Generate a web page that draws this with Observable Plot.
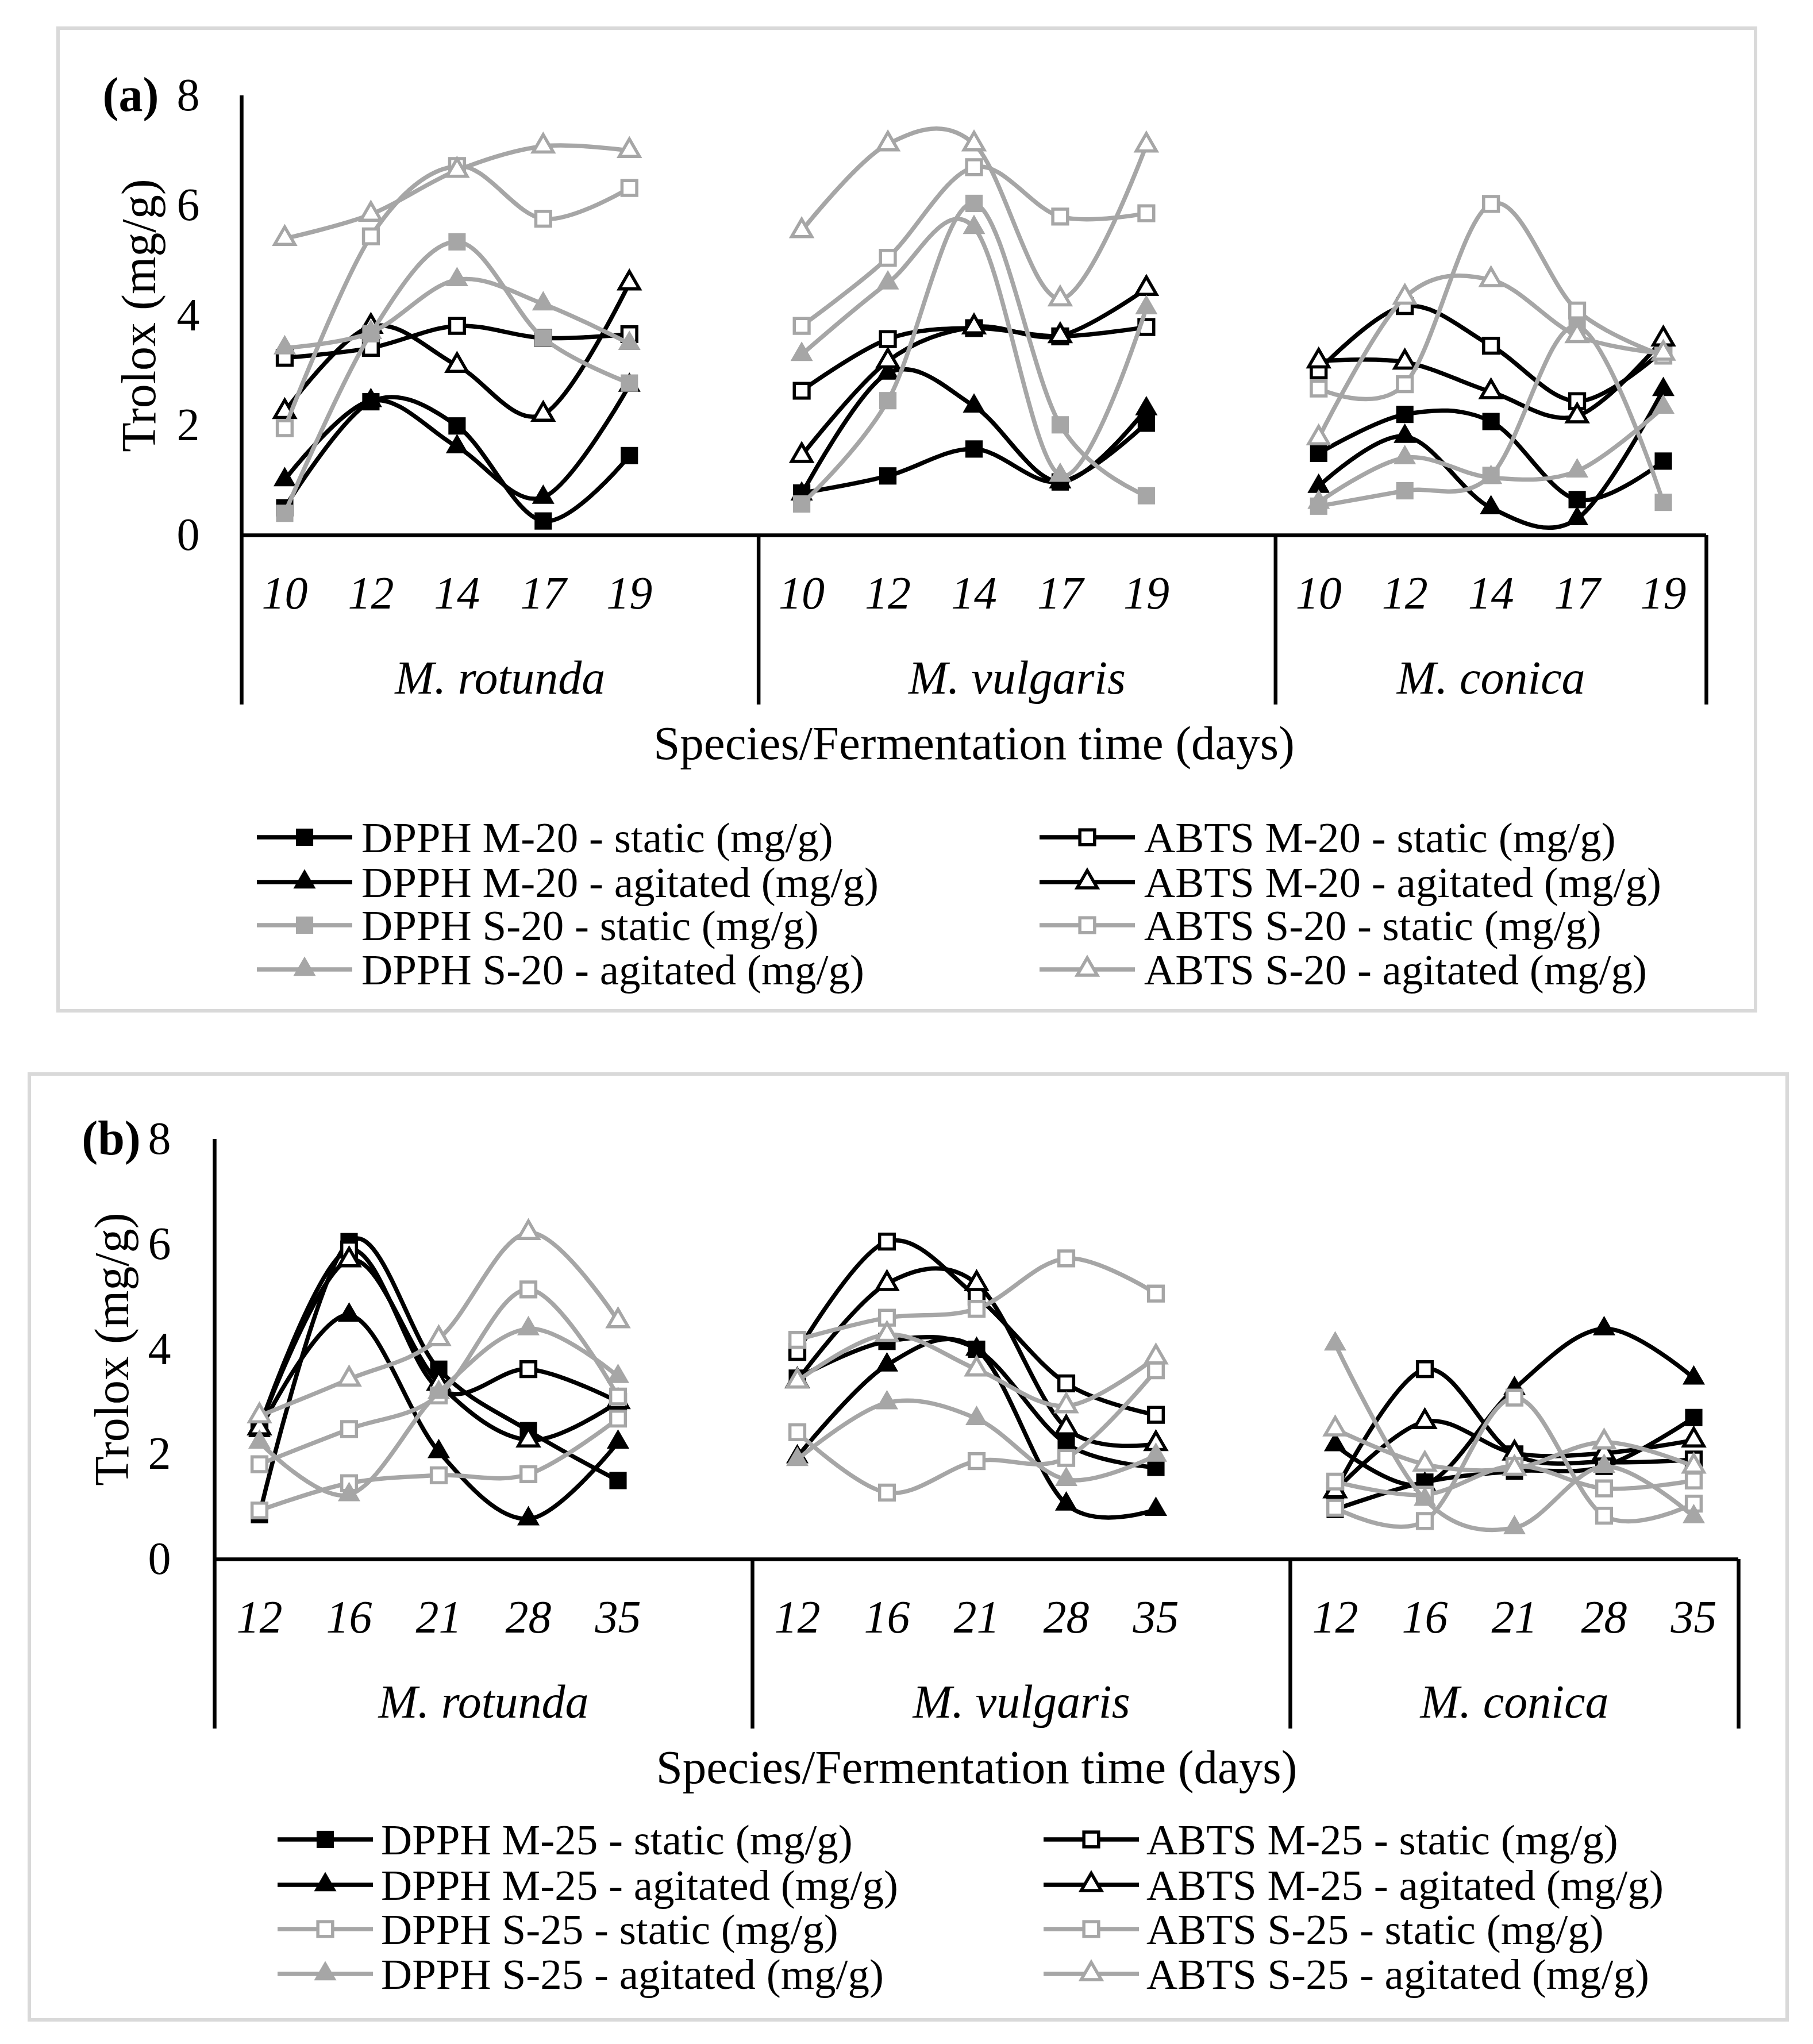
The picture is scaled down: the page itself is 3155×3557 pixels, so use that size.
<!DOCTYPE html>
<html><head><meta charset="utf-8">
<script src="https://cdn.jsdelivr.net/npm/d3@7"></script>
<script src="https://cdn.jsdelivr.net/npm/@observablehq/plot@0.6"></script>
<style>
body{margin:0;background:#fff;width:3155px;height:3557px;position:relative;overflow:hidden;font-family:"Liberation Serif","Times New Roman",serif;color:#000;}
.frame{position:absolute;border:6px solid #d9d9d9;box-sizing:border-box;}
.plot{position:absolute;left:0;}
.leg{position:absolute;font-size:75px;line-height:1;white-space:nowrap;}
.leg svg{position:absolute;left:0;top:0;}
.leg span{position:absolute;top:50%;transform:translateY(-50%);}
</style></head><body>
<div class="frame" style="left:98px;top:46px;width:2960px;height:1716px"></div>
<div class="frame" style="left:48px;top:1866px;width:3065px;height:1652px"></div>
<div id="a" class="plot" style="top:0px"></div>
<div id="b" class="plot" style="top:1880px"></div>
<div id="legA"></div><div id="legB"></div>
<script>
// ---------- data ----------
const species = ["M. rotunda", "M. vulgaris", "M. conica"];
const daysA = ["10", "12", "14", "17", "19"];
const daysB = ["12", "16", "21", "28", "35"];
const yTicks = [0, 2, 4, 6, 8];

const namesA = ["DPPH M-20 - static (mg/g)", "ABTS M-20 - static (mg/g)",
  "DPPH M-20 - agitated (mg/g)", "ABTS M-20 - agitated (mg/g)",
  "DPPH S-20 - static (mg/g)", "ABTS S-20 - static (mg/g)",
  "DPPH S-20 - agitated (mg/g)", "ABTS S-20 - agitated (mg/g)"];
const namesB = ["DPPH M-25 - static (mg/g)", "ABTS M-25 - static (mg/g)",
  "DPPH M-25 - agitated (mg/g)", "ABTS M-25 - agitated (mg/g)",
  "DPPH S-25 - static (mg/g)", "ABTS S-25 - static (mg/g)",
  "DPPH S-25 - agitated (mg/g)", "ABTS S-25 - agitated (mg/g)"];

// panel (a): values per species (rotunda, vulgaris, conica) x days
const dpphM20static = [0.50, 2.43, 1.99, 0.26, 1.45, 0.77, 1.08, 1.57, 0.97, 2.04, 1.49, 2.20, 2.07, 0.65, 1.35];
const abtsM20static = [3.23, 3.41, 3.81, 3.59, 3.66, 2.63, 3.57, 3.77, 3.62, 3.79, 3.00, 4.17, 3.45, 2.44, 3.37];
const dpphM20agit   = [1.01, 2.45, 1.61, 0.69, 2.73, 0.75, 2.95, 2.35, 0.97, 2.30, 0.89, 1.80, 0.50, 0.30, 2.65];
const abtsM20agit   = [2.25, 3.80, 3.09, 2.20, 4.59, 1.45, 3.17, 3.79, 3.63, 4.49, 3.17, 3.15, 2.61, 2.17, 3.57];
const dpphS20static = [0.40, 3.67, 5.34, 3.59, 2.77, 0.57, 2.45, 6.04, 2.01, 0.72, 0.53, 0.81, 1.09, 3.81, 0.60];
const abtsS20static = [1.95, 5.44, 6.72, 5.76, 6.32, 3.81, 5.05, 6.70, 5.80, 5.86, 2.67, 2.75, 6.03, 4.09, 3.27];
const dpphS20agit   = [3.41, 3.69, 4.65, 4.21, 3.49, 3.29, 4.59, 5.60, 1.09, 4.14, 0.60, 1.41, 1.05, 1.17, 2.33];
const abtsS20agit   = [5.40, 5.84, 6.64, 7.08, 7.00, 5.54, 7.12, 7.12, 4.30, 7.10, 1.77, 4.33, 4.65, 3.63, 3.31];

// panel (b)
const dpphM25static = [0.85, 6.05, 3.62, 2.45, 1.50, 3.45, 4.15, 4.00, 2.20, 1.75, 0.95, 1.47, 1.68, 1.77, 2.70];
const abtsM25static = [2.50, 5.90, 3.25, 3.62, 3.00, 3.95, 6.05, 5.00, 3.35, 2.75, 1.30, 3.62, 2.00, 1.85, 1.90];
const dpphM25agit   = [2.45, 4.65, 2.05, 0.77, 2.23, 1.95, 3.70, 4.00, 1.05, 0.95, 2.18, 1.43, 3.25, 4.39, 3.45];
const abtsM25agit   = [2.50, 5.70, 3.35, 2.27, 3.00, 3.40, 5.25, 5.25, 2.50, 2.20, 1.30, 2.62, 2.02, 2.02, 2.27];
const dpphS25static = [0.93, 1.45, 1.60, 1.62, 2.68, 2.42, 1.27, 1.87, 1.93, 3.60, 0.98, 0.73, 3.08, 0.83, 1.06];
const abtsS25static = [1.81, 2.48, 3.12, 5.14, 3.10, 4.18, 4.60, 4.77, 5.73, 5.06, 1.48, 1.23, 1.78, 1.35, 1.50];
const dpphS25agit   = [2.23, 1.23, 3.18, 4.39, 3.48, 1.90, 2.98, 2.68, 1.52, 1.98, 4.10, 1.14, 0.60, 1.77, 0.81];
const abtsS25agit   = [2.73, 3.43, 4.20, 6.22, 4.54, 3.39, 4.28, 3.62, 2.92, 3.85, 2.48, 1.81, 1.73, 2.23, 1.77];

const seriesA = [dpphM20static, abtsM20static, dpphM20agit, abtsM20agit, dpphS20static, abtsS20static, dpphS20agit, abtsS20agit];
const seriesB = [dpphM25static, abtsM25static, dpphM25agit, abtsM25agit, dpphS25static, abtsS25static, dpphS25agit, abtsS25agit];

// ---------- styles ----------
const BLACK = "#000", GRAY = "#a6a6a6";
function styleFor(i, panel) {
  const color = i < 4 ? BLACK : GRAY;
  const symbol = (i % 4 < 2) ? "square" : "triangle";
  let filled = (i % 2 === 0);
  if (panel === "b" && i === 4) filled = false;
  return {color, symbol, filled};
}
function markerR(sym, filled) {
  if (sym === "square") return filled ? 17 : 14.5;
  return filled ? 14.5 : 13;
}

const FONT = "Liberation Serif, Times New Roman, serif";

function panel(el, o) {
  const rows = [];
  o.series.forEach((vals, si) => species.forEach((sp, gi) => o.days.forEach((d, di) => {
    rows.push({si, gi, key: si + "-" + gi, x: gi * 6 + di + 0.5, y: vals[gi * 5 + di]});
  })));
  const ticks = [];
  species.forEach((sp, gi) => o.days.forEach((d, di) => ticks.push({x: gi * 6 + di + 0.5, t: d})));
  const groups = species.map((sp, gi) => ({x: gi === 2 ? 14.5 : gi * 6 + 3, t: sp}));
  const pxPerUnit = (o.y0 - o.y8) / 8;
  const yBot = -o.sepDrop / pxPerUnit;

  const marks = [
    Plot.ruleY([0], {stroke: BLACK, strokeWidth: 6.5}),
    Plot.ruleX([0], {y1: 8, y2: yBot, stroke: BLACK, strokeWidth: 6.5}),
    Plot.ruleX([6, 12, 17], {y1: 0, y2: yBot, stroke: BLACK, strokeWidth: 6.5}),
    Plot.axisY({ticks: yTicks, tickSize: 0, tickPadding: o.tickPad, fontSize: 80, label: null}),
    Plot.text(ticks, {x: "x", text: "t", frameAnchor: "bottom", dy: 102, lineAnchor: "middle", fontStyle: "italic", fontSize: 80}),
    Plot.text(groups, {x: "x", text: "t", frameAnchor: "bottom", dy: 249, lineAnchor: "middle", fontStyle: "italic", fontSize: 82}),
    Plot.text(["Species/Fermentation time (days)"], {text: d => d, frameAnchor: "bottom", dy: 363, lineAnchor: "middle", fontSize: 83}),
    Plot.text(["Trolox (mg/g)"], {text: d => d, frameAnchor: "left", dx: -177, rotate: -90, textAnchor: "middle", lineAnchor: "middle", fontSize: 84}),
    Plot.text([o.tag], {text: d => d, frameAnchor: "top-left", dx: o.tagDx, lineAnchor: "middle", textAnchor: "middle", fontWeight: "bold", fontSize: 84})
  ];
  o.series.forEach((vals, si) => {
    const st = styleFor(si, o.id);
    const data = rows.filter(r => r.si === si);
    marks.push(Plot.line(data, {x: "x", y: "y", z: "key", stroke: st.color, strokeWidth: 7.5, curve: "cardinal"}));
    marks.push(Plot.dot(data, {x: "x", y: "y", symbol: st.symbol, r: markerR(st.symbol, st.filled),
      fill: st.filled ? st.color : "#fff", stroke: st.color, strokeWidth: st.filled ? 0 : 5.5}));
  });
  const chart = Plot.plot({
    width: 3155, height: o.height,
    marginTop: o.y8 - o.top, marginBottom: o.height - (o.y0 - o.top),
    marginLeft: o.left, marginRight: 3155 - o.right,
    x: {type: "linear", domain: [0, 17], axis: null},
    y: {domain: [0, 8], axis: null},
    style: {fontFamily: FONT, fontSize: "80px", color: "#000", background: "transparent", overflow: "visible"},
    marks
  });
  document.getElementById(el).appendChild(chart);
}

panel("a", {id: "a", series: seriesA, days: daysA, top: 0, height: 1360, y8: 166, y0: 931, left: 420, right: 2969, sepDrop: 295, tickPad: 73, tag: "(a)", tagDx: -193});
panel("b", {id: "b", series: seriesB, days: daysB, top: 1880, height: 1260, y8: 1982, y0: 2713, left: 373, right: 3025, sepDrop: 295, tickPad: 76, tag: "(b)", tagDx: -180});

// ---------- legends ----------
function legend(el, names, id, colX, textX, rowsY) {
  const host = document.getElementById(el);
  names.forEach((name, i) => {
    const st = styleFor(i, id);
    const row = Math.floor(i / 2), col = i % 2;
    const div = document.createElement("div");
    div.className = "leg";
    div.style.left = colX[col] + "px";
    div.style.top = (rowsY[row] - 40) + "px";
    div.style.height = "80px";
    div.style.width = "1300px";
    const w = 166, cy = 40, cx = 83;
    const r = markerR(st.symbol, st.filled);
    let marker;
    if (st.symbol === "square") {
      const s = Math.sqrt(Math.PI) * r;
      marker = `<rect x="${cx - s / 2}" y="${cy - s / 2}" width="${s}" height="${s}" fill="${st.filled ? st.color : "#fff"}" stroke="${st.color}" stroke-width="${st.filled ? 0 : 5.5}"/>`;
    } else {
      const p = d3.symbol(d3.symbolTriangle, Math.PI * r * r)();
      marker = `<path transform="translate(${cx},${cy})" d="${p}" fill="${st.filled ? st.color : "#fff"}" stroke="${st.color}" stroke-width="${st.filled ? 0 : 5.5}"/>`;
    }
    div.innerHTML = `<svg width="${w}" height="80"><line x1="0" x2="${w}" y1="${cy}" y2="${cy}" stroke="${st.color}" stroke-width="7.5"/>${marker}</svg><span style="left:${textX[col] - colX[col]}px">${name}</span>`;
    host.appendChild(div);
  });
}
legend("legA", namesA, "a", [447, 1809], [629, 1991], [1457, 1535, 1610, 1687]);
legend("legB", namesB, "b", [483, 1816], [663, 1995], [3201, 3280, 3357, 3435]);
</script>
</body></html>
